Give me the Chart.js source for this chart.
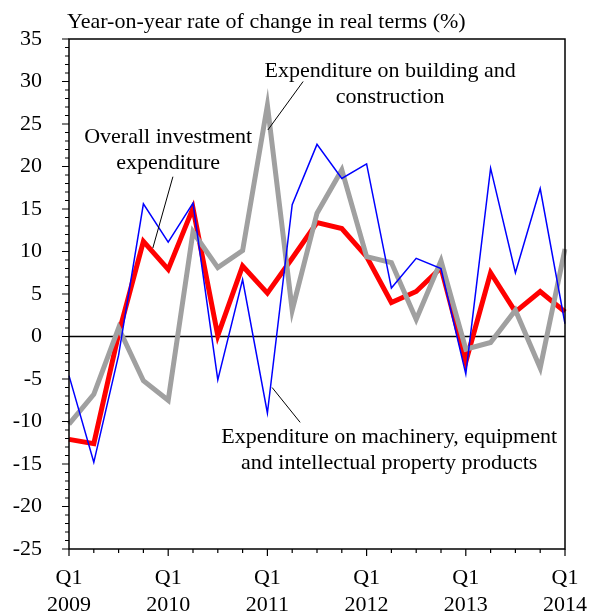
<!DOCTYPE html>
<html>
<head>
<meta charset="utf-8">
<title>Investment expenditure</title>
<script src="https://cdn.jsdelivr.net/npm/chart.js@4/dist/chart.umd.min.js"></script>
<style>
    body { margin: 0; background: #fff; }
    canvas { display: block; }
</style>
</head>
<body>
<canvas id="myChart" width="590" height="614"></canvas>
<script>
// quarters Q1 2009 .. Q1 2014
let quarters = ['Q1 2009', 'Q2 2009', 'Q3 2009', 'Q4 2009',
    'Q1 2010', 'Q2 2010', 'Q3 2010', 'Q4 2010',
    'Q1 2011', 'Q2 2011', 'Q3 2011', 'Q4 2011',
    'Q1 2012', 'Q2 2012', 'Q3 2012', 'Q4 2012',
    'Q1 2013', 'Q2 2013', 'Q3 2013', 'Q4 2013',
    'Q1 2014'];

let overall = [-12.1, -12.6, 0.3, 11.2, 7.9, 15.1, 0.1, 8.3,
    5.1, 9.2, 13.4, 12.7, 9.4, 4.0, 5.3, 8.1,
    -3.0, 7.5, 2.9, 5.3, 2.9];

let machinery = [-4.6, -14.8, -2.2, 15.6, 11.1, 15.7, -5.1, 6.7,
    -9.0, 15.5, 22.6, 18.6, 20.3, 5.7, 9.2, 8.0,
    -4.4, 19.8, 7.5, 17.4, 1.5];

let building = [-10.3, -6.8, 1.0, -5.2, -7.5, 12.3, 8.1, 10.1,
    27.2, 3.1, 14.5, 19.6, 9.4, 8.7, 2.0, 8.9,
    -1.5, -0.7, 3.1, -3.7, 10.3];

let yMin = -25;
let yMax = 35;
let yStep = 5;
let axisTitle = 'Year-on-year rate of change in real terms (%)';

// labels with leader lines, placed in data units (x = quarter index)
let notes = [
    {lines: ['Overall investment', 'expenditure'], x: 4.0, y: 23.4, from: [4.19, 18.8], to: [3.38, 10.4]},
    {lines: ['Expenditure on building and', 'construction'], x: 12.95, y: 31.2, from: [9.44, 30.0], to: [8.02, 24.3]},
    {lines: ['Expenditure on machinery, equipment', 'and intellectual property products'], x: 12.91, y: -11.9, from: [8.19, -6.0], to: [9.32, -10.1]}
];

const FONT = '"Liberation Serif", "Times New Roman", serif';

// frame, zero line, tick marks and notes
const decorations = {
    id: 'decorations',
    beforeDatasetsDraw: function(chart){
        let ctx = chart.ctx;
        let y = chart.scales.y;
        let a = chart.chartArea;
        ctx.save();
        ctx.strokeStyle = '#000';
        ctx.lineWidth = 1.5;
        ctx.beginPath();
        ctx.moveTo(a.left, y.getPixelForValue(0));
        ctx.lineTo(a.right, y.getPixelForValue(0));
        ctx.stroke();
        ctx.restore();
    },
    afterDraw: function(chart){
        let ctx = chart.ctx;
        let x = chart.scales.x;
        let y = chart.scales.y;
        let a = chart.chartArea;
        ctx.save();
        ctx.strokeStyle = '#000';
        ctx.lineWidth = 1.5;
        ctx.strokeRect(a.left, a.top, a.right - a.left, a.bottom - a.top);

        ctx.lineWidth = 1.2;
        ctx.beginPath();
        for(let i = 0; i < quarters.length; i++){
            let px = x.getPixelForValue(i);
            let len = (i % 4 === 0) ? 7 : 4;
            ctx.moveTo(px, a.bottom);
            ctx.lineTo(px, a.bottom + len);
        }
        for(let v = yMin; v <= yMax; v++){
            let py = y.getPixelForValue(v);
            let len = (v % yStep === 0) ? 7 : 4;
            ctx.moveTo(a.left, py);
            ctx.lineTo(a.left - len, py);
        }
        ctx.stroke();

        ctx.fillStyle = '#000';
        ctx.font = '22px ' + FONT;
        ctx.textAlign = 'left';
        ctx.textBaseline = 'alphabetic';
        ctx.fillText(axisTitle, a.left - 2, 28);

        ctx.textAlign = 'center';
        ctx.textBaseline = 'middle';
        ctx.lineWidth = 1;
        notes.forEach(function(n){
            let cx = x.getPixelForValue(n.x);
            let cy = y.getPixelForValue(n.y);
            n.lines.forEach(function(line, k){
                ctx.fillText(line, cx, cy + k * 26);
            });
            ctx.beginPath();
            ctx.moveTo(x.getPixelForValue(n.from[0]), y.getPixelForValue(n.from[1]));
            ctx.lineTo(x.getPixelForValue(n.to[0]), y.getPixelForValue(n.to[1]));
            ctx.stroke();
        });
        ctx.restore();
    }
};

let ctx = document.getElementById('myChart').getContext('2d');
let config = {
    type: 'line',
    data: {
        labels: quarters,
        datasets: [{
            label: 'Expenditure on machinery, equipment and intellectual property products',
            data: machinery,
            borderColor: '#0000ff',
            borderWidth: 1.5
        }, {
            label: 'Expenditure on building and construction',
            data: building,
            borderColor: '#a0a0a0',
            borderWidth: 5
        }, {
            label: 'Overall investment expenditure',
            data: overall,
            borderColor: '#ff0000',
            borderWidth: 5
        }]
    },
    options: {
        responsive: false,
        animation: false,
        devicePixelRatio: 1,
        layout: {padding: {top: 39, right: 25, left: 0, bottom: 0}},
        elements: {
            line: {tension: 0, fill: false},
            point: {radius: 0, hoverRadius: 0}
        },
        plugins: {
            legend: {display: false},
            tooltip: {enabled: false}
        },
        scales: {
            x: {
                type: 'category',
                offset: false,
                grid: {display: false, drawTicks: false},
                border: {display: false},
                ticks: {
                    autoSkip: false,
                    maxRotation: 0,
                    padding: 16,
                    color: '#000',
                    font: {family: FONT, size: 22, lineHeight: 1.23},
                    callback: function(value, index){
                        if(index % 4 !== 0) return '';
                        return ['Q1', quarters[index].split(' ')[1]];
                    }
                },
                afterFit: function(scale){
                    scale.height = 65;
                    scale.paddingLeft = 0;
                    scale.paddingRight = 0;
                }
            },
            y: {
                min: yMin,
                max: yMax,
                grid: {display: false, drawTicks: false},
                border: {display: false},
                ticks: {
                    stepSize: yStep,
                    padding: 27,
                    color: '#000',
                    font: {family: FONT, size: 22}
                },
                afterFit: function(scale){
                    scale.width = 69;
                    scale.paddingTop = 0;
                    scale.paddingBottom = 0;
                }
            }
        }
    },
    plugins: [decorations]
};
let myChart = new Chart(ctx, config);
</script>
</body>
</html>
